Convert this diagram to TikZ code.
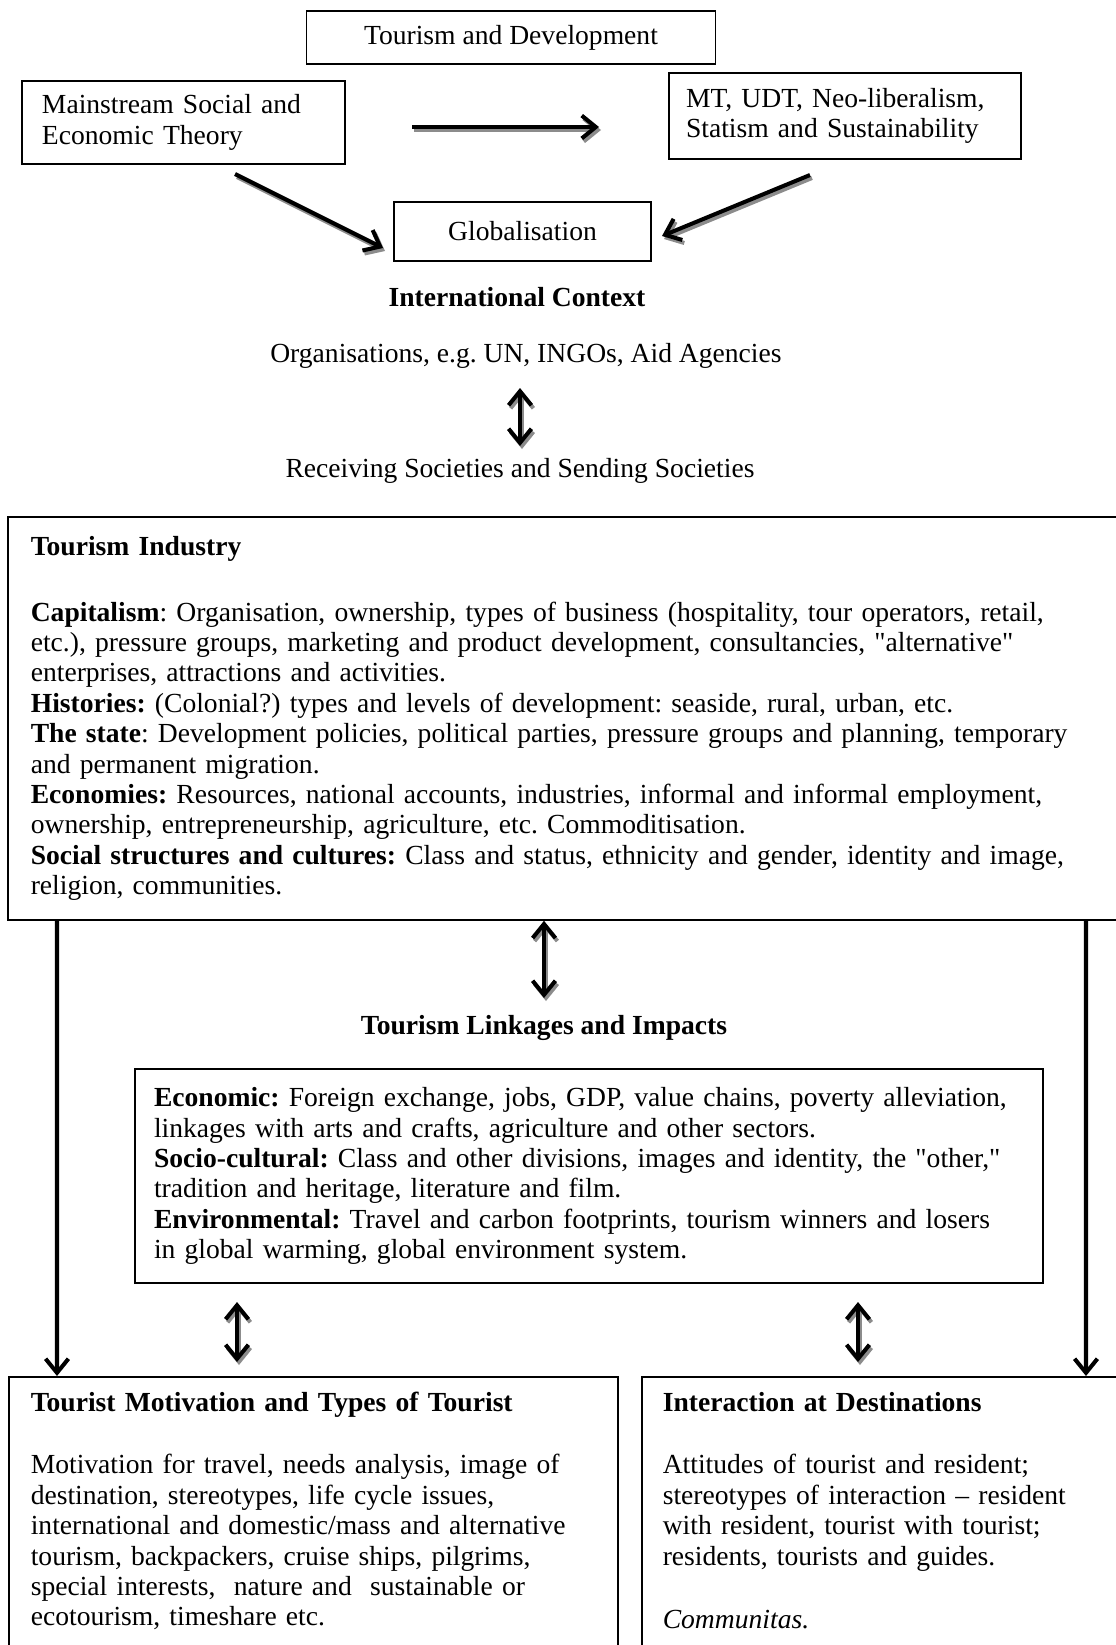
\documentclass[tikz,border=0pt]{standalone}
\usepackage{fontspec}
\setmainfont{Liberation Serif}
\usetikzlibrary{arrows.meta}
\frenchspacing

\begin{document}
\begin{tikzpicture} [bx/.style={rectangle, draw, line width=0.9pt, inner sep=0pt},
  tbx/.style={bx, align=left, inner ysep=9pt, text height=10.5pt, text depth=5cm, anchor=north west},
  arr/.style={line width=2.3pt, -{Straight Barb[length=8pt,width=13pt]}},
  darr/.style={line width=2.3pt, {Straight Barb[length=8pt,width=13pt]}-{Straight Barb[length=8pt,width=13pt]}},
  shd/.style={draw=black!45, transform canvas={shift={(0.04,-0.06)}}},
  font=\fontsize{15.7}{17.3}\selectfont]
  \useasboundingbox (0,0) rectangle (22.32,-32.9);
  \clip (0,0) rectangle (22.32,-32.9);

  \node[bx, minimum width=8.18cm, minimum height=1.06cm] (tdev) at (10.22,-0.75) {Tourism and Development};
  \node[bx, align=left, text width=5.66cm, inner xsep=0.4cm, minimum height=1.66cm] (mset) at (3.67,-2.45) {Mainstream Social and\\Economic Theory};
  \node[bx, align=left, text width=6.36cm, inner xsep=0.34cm, minimum height=1.72cm] (mtud) at (16.9,-2.32) {MT, UDT, Neo-liberalism,\\Statism and Sustainability};
  \node[bx, minimum width=5.14cm, minimum height=1.18cm] (glob) at (10.45,-4.63) {Globalisation};

  \node (intc) at (10.34,-5.94) {\textbf{International Context}};
  \node (orgs) at (10.52,-7.12) {Organisations, e.g. UN, INGOs, Aid Agencies};
  \node (recv) at (10.4,-9.42) {Receiving Societies and Sending Societies};

  \node[bx, align=left, text width=22cm, inner xsep=0.46cm, minimum height=8.06cm, anchor=west] (indus) at (0.14,-14.37) {\textbf{Tourism Industry}\\[20pt]
    \textbf{Capitalism}: Organisation, ownership, types of business (hospitality, tour operators, retail,\\
    etc.), pressure groups, marketing and product development, consultancies, \textquotedbl alternative\textquotedbl\\
    enterprises, attractions and activities.\\
    \textbf{Histories:} (Colonial?) types and levels of development: seaside, rural, urban, etc.\\
    \textbf{The state}: Development policies, political parties, pressure groups and planning, temporary\\
    and permanent migration.\\
    \textbf{Economies:} Resources, national accounts, industries, informal and informal employment,\\
    ownership, entrepreneurship, agriculture, etc. Commoditisation.\\
    \textbf{Social structures and cultures:} Class and status, ethnicity and gender, identity and image,\\
    religion, communities.};

  \node (tli) at (10.88,-20.56) {\textbf{Tourism Linkages and Impacts}};

  \node[bx, align=left, text width=17.4cm, inner xsep=0.38cm, minimum height=4.28cm] (impact) at (11.78,-23.52) {\textbf{Economic:} Foreign exchange, jobs, GDP, value chains, poverty alleviation,\\
    linkages with arts and crafts, agriculture and other sectors.\\
    \textbf{Socio-cultural:} Class and other divisions, images and identity, the \textquotedbl other,\textquotedbl\\
    tradition and heritage, literature and film.\\
    \textbf{Environmental:} Travel and carbon footprints, tourism winners and losers\\
    in global warming, global environment system.};

  \node[tbx, text width=11.3cm, inner xsep=0.44cm] (motiv) at (0.16,-27.52) {\textbf{Tourist Motivation and Types of Tourist}\\[18.4pt]
    Motivation for travel, needs analysis, image of\\
    destination, stereotypes, life cycle issues,\\
    international and domestic/mass and alternative\\
    tourism, backpackers, cruise ships, pilgrims,\\
    special interests,\ \ nature and\ \ sustainable or\\
    ecotourism, timeshare etc.};
  \node[tbx, text width=9.6cm, inner xsep=0.42cm] (dest) at (12.82,-27.52) {\textbf{Interaction at Destinations}\\[18.4pt]
    Attitudes of tourist and resident;\\
    stereotypes of interaction – resident\\
    with resident, tourist with tourist;\\
    residents, tourists and guides.\\[19pt]
    \textit{Communitas.}};

  % free ends of the arrows
  \coordinate (hs) at (8.24,-2.54);
  \coordinate (he) at (11.98,-2.54);
  \coordinate (ls) at (4.70,-3.48);
  \coordinate (le) at (7.66,-4.96);
  \coordinate (rs) at (16.2,-3.5);
  \coordinate (re) at (13.24,-4.72);
  \coordinate (o1) at (10.4,-7.76);
  \coordinate (o2) at (10.4,-8.92);
  \coordinate (t2) at (10.88,-19.96);
  \coordinate (a1) at (4.74,-26.04);
  \coordinate (a2) at (4.74,-27.24);
  \coordinate (b1) at (17.16,-26.04);
  \coordinate (b2) at (17.16,-27.24);

  \draw[arr, shd] (hs) -- (he);
  \draw[arr] (hs) -- (he);
  \draw[arr, shd] (ls) -- (le);
  \draw[arr] (ls) -- (le);
  \draw[arr, shd] (rs) -- (re);
  \draw[arr] (rs) -- (re);

  \draw[darr, shd] (o1) -- (o2);
  \draw[darr] (o1) -- (o2);
  \draw[darr, shd] (indus.south -| tli.north) -- (t2);
  \draw[darr] (indus.south -| tli.north) -- (t2);
  \draw[darr, shd] (a1) -- (a2);
  \draw[darr] (a1) -- (a2);
  \draw[darr, shd] (b1) -- (b2);
  \draw[darr] (b1) -- (b2);

  \draw[arr] ([xshift=1cm]indus.south west) -- ([xshift=0.98cm]motiv.north west);
  \draw[arr] ([xshift=21.58cm]indus.south west) -- ([xshift=8.9cm]dest.north west);

\end{tikzpicture}
\end{document}
